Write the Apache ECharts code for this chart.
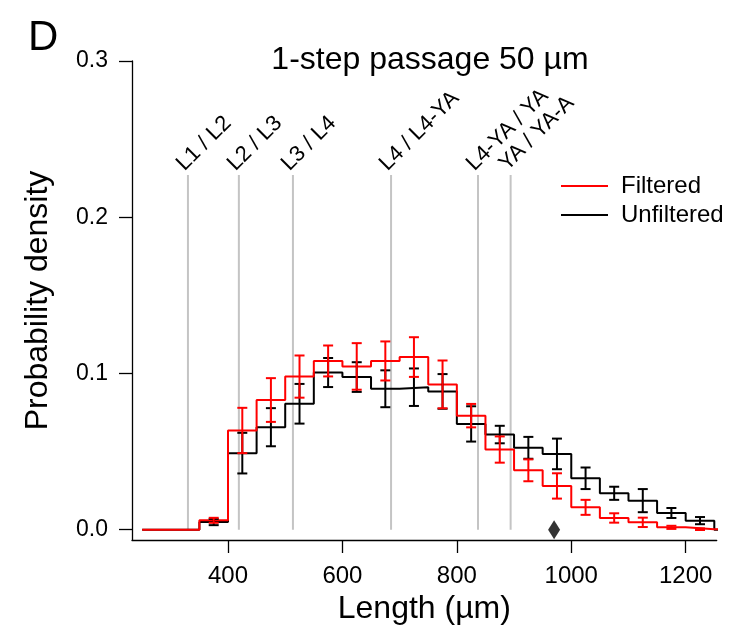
<!DOCTYPE html>
<html>
<head>
<meta charset="utf-8">
<script src="https://cdn.jsdelivr.net/npm/echarts@6/dist/echarts.min.js"></script>
<style>
html,body{margin:0;padding:0;background:#fff;}
#chart{width:734px;height:634px;}
</style>
</head>
<body>
<div id="chart"></div>
<script>
// ---- data ----
const binEdges = [250,300,350,400,450,500,550,600,650,700,750,800,850,900,950,1000,1050,1100,1150,1200];
const binEnd = 1250;
const filtered      = [0,0,0.006,0.0635,0.083,0.098,0.108,0.1045,0.108,0.1105,0.093,0.073,0.0513,0.038,0.028,0.0143,0.0075,0.0047,0.0015,0.0003];
const filteredErr   = [0,0,0.0016,0.0145,0.014,0.0135,0.0099,0.0149,0.0125,0.0127,0.0153,0.0075,0.0084,0.007,0.0081,0.0048,0.003,0.003,0.001,0.0005];
const unfiltered    = [0,0,0.0049,0.049,0.0656,0.0806,0.1006,0.0977,0.0902,0.0912,0.0885,0.0677,0.0609,0.0524,0.0485,0.0329,0.0233,0.0186,0.0107,0.0058];
const unfilteredErr = [0,0,0.002,0.013,0.0122,0.0127,0.0093,0.0095,0.0118,0.012,0.0111,0.0113,0.0056,0.007,0.0098,0.0069,0.0042,0.0074,0.0032,0.0023];
const stageBoundaries = [330,419,513.5,685,837,894];
const stageLabels = ['L1 / L2','L2 / L3','L3 / L4','L4 / L4-YA','L4-YA / YA','YA / YA-A'];
const boundaryTop = 0.227;
const markerLength = 970;
const xTicks = [400,600,800,1000,1200];
const yTicks = [0,0.1,0.2,0.3];

const FONT = "'Liberation Sans', Arial, Helvetica, sans-serif";

function stepData(vals){
  const d = binEdges.map((e,i)=>[e, vals[i]]);
  d.push([binEnd, 0]);
  d.push([binEnd + 50, 0]);
  return d;
}
function errData(vals, errs){
  const half = (binEdges[1]-binEdges[0])/2;
  return binEdges.map((e,i)=>[e+half, vals[i]-errs[i], vals[i]+errs[i]])
                 .filter((d,i)=>errs[i]>0);
}
function errSeries(vals, errs, color, z){
  return {
    type:'custom', z:z, silent:true,
    data: errData(vals, errs),
    encode:{x:0, y:[1,2]},
    renderItem:function(params, api){
      const x = api.value(0);
      const lo = api.coord([x, api.value(1)]);
      const hi = api.coord([x, api.value(2)]);
      const w = 5;
      const st = {stroke:color, lineWidth:2};
      return {type:'group', children:[
        {type:'line', shape:{x1:lo[0],y1:lo[1],x2:hi[0],y2:hi[1]}, style:st},
        {type:'line', shape:{x1:lo[0]-w,y1:lo[1],x2:lo[0]+w,y2:lo[1]}, style:st},
        {type:'line', shape:{x1:hi[0]-w,y1:hi[1],x2:hi[0]+w,y2:hi[1]}, style:st}
      ]};
    }
  };
}

const legendBase = {orient:'vertical', selectedMode:false, itemWidth:47, itemHeight:2, icon:'rect',
  textStyle:{fontSize:24, color:'#000', fontFamily:FONT, lineHeight:24, padding:[0,0,0,8]}};

const chart = echarts.init(document.getElementById('chart'), null, {renderer:'canvas'});
const option = {
  animation:false,
  backgroundColor:'#fff',
  textStyle:{fontFamily:FONT},
  grid:{left:132, right:17.3, top:61, bottom:94, containLabel:false},
  graphic:[
    {type:'text', left:28, top:17, style:{text:'D', font:'42px '+FONT, fill:'#000'}},
    {type:'text', x:430, y:60, style:{text:'1-step passage 50 µm', font:'32px '+FONT, fill:'#000', align:'center', verticalAlign:'middle'}}
  ],
  legend:[
    Object.assign({data:['Filtered'], left:556, top:169}, legendBase),
    Object.assign({data:['Unfiltered'], left:556, top:198}, legendBase)
  ],
  xAxis:{
    type:'value', min:232.2, max:1254.2,
    name:'Length (µm)', nameLocation:'middle', nameGap:51,
    nameTextStyle:{fontSize:32, color:'#000', fontFamily:FONT},
    axisLine:{show:true, onZero:false, lineStyle:{color:'#000', width:1.3}},
    axisTick:{show:true, inside:false, length:13, customValues:xTicks, lineStyle:{color:'#000', width:1.3}},
    axisLabel:{show:true, margin:24, fontSize:24, color:'#000', fontFamily:FONT, customValues:xTicks,
               formatter:function(v){return String(v);}},
    splitLine:{show:false}
  },
  yAxis:{
    type:'value', min:-0.0066, max:0.3,
    name:'Probability density', nameLocation:'middle', nameGap:78, nameRotate:90,
    nameTextStyle:{fontSize:32, color:'#000', fontFamily:FONT},
    axisLine:{show:true, onZero:false, lineStyle:{color:'#000', width:1.3}},
    axisTick:{show:true, inside:false, length:13, customValues:yTicks, lineStyle:{color:'#000', width:1.3}},
    axisLabel:{show:true, margin:24, fontSize:23, color:'#000', fontFamily:FONT, customValues:yTicks,
               formatter:function(v){return v.toFixed(1);}},
    splitLine:{show:false}
  },
  series:[
    {
      type:'custom', z:1, silent:true,
      data: stageBoundaries.map(x=>[x, 0, boundaryTop]),
      encode:{x:0, y:[1,2]},
      renderItem:function(params, api){
        const x = api.value(0);
        const b = api.coord([x, api.value(1)]);
        const t = api.coord([x, api.value(2)]);
        return {type:'group', children:[
          {type:'line', shape:{x1:b[0],y1:b[1],x2:t[0],y2:t[1]}, style:{stroke:'#c4c4c4', lineWidth:2}},
          {type:'text', x:t[0], y:t[1], rotation:Math.PI/4,
           style:{text:stageLabels[params.dataIndex], font:'22px '+FONT, fill:'#000', align:'left', verticalAlign:'bottom'}}
        ]};
      }
    },
    {
      name:'Unfiltered', type:'line', step:'end', symbol:'none', z:3,
      data: stepData(unfiltered), clip:true,
      lineStyle:{color:'#000', width:2}, itemStyle:{color:'#000'}
    },
    {
      name:'Filtered', type:'line', step:'end', symbol:'none', z:4,
      data: stepData(filtered), clip:true,
      lineStyle:{color:'#ff0000', width:2}, itemStyle:{color:'#ff0000'}
    },
    errSeries(unfiltered, unfilteredErr, '#000', 5),
    errSeries(filtered, filteredErr, '#ff0000', 6),
    {
      type:'scatter', symbol:'diamond', symbolSize:[12,19], z:7, silent:true,
      data:[[markerLength, 0]], itemStyle:{color:'#000'}
    }
  ]
};
chart.setOption(option);
</script>
</body>
</html>
